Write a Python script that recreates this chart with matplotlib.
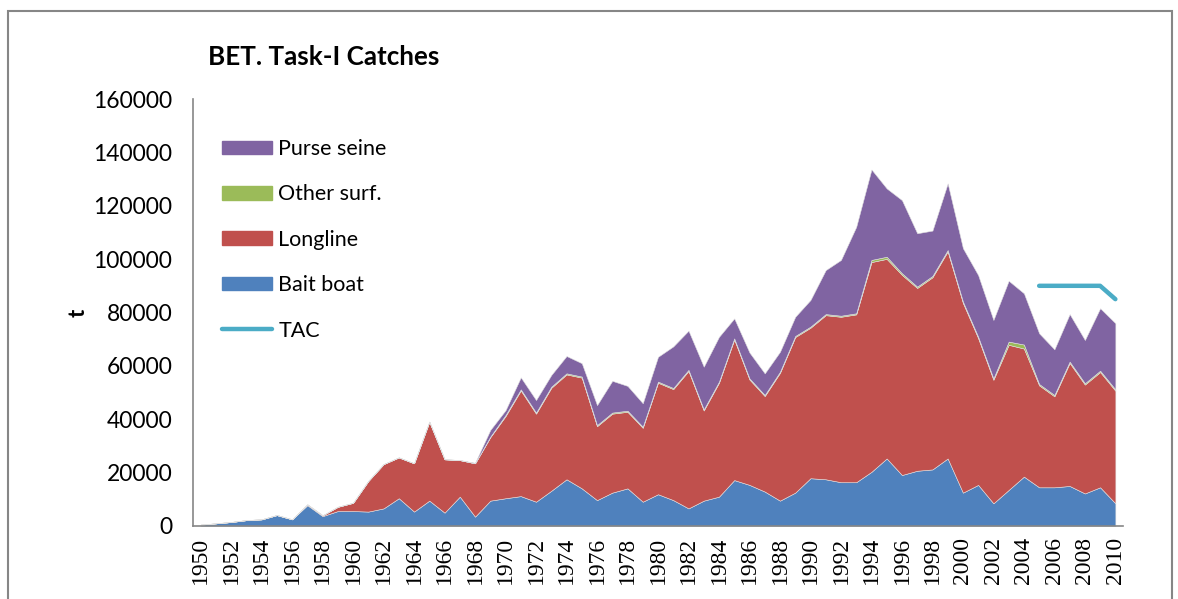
import numpy as np
import matplotlib
matplotlib.use("Agg")
import matplotlib.pyplot as plt
from matplotlib.patches import Rectangle, Patch
from matplotlib.lines import Line2D

years = np.arange(1950, 2011)

bait_boat = [500, 1000, 1500, 2200, 2500, 4100, 2500, 7800, 3700, 5600,
             5600, 5400, 6600, 10400, 5400, 9500, 5000, 11000, 3500, 9500,
             10400, 11200, 9100, 13200, 17500, 14100, 9700, 12500, 14100, 9100,
             11900, 9700, 6600, 9500, 11000, 17200, 15400, 12900, 9500, 12500,
             17900, 17500, 16400, 16400, 20300, 25300, 19100, 20700, 21200, 25300,
             12500, 15400, 8500, 13500, 18500, 14500, 14500, 15000, 12200, 14500,
             8500]

longline = [0, 0, 0, 0, 0, 0, 0, 300, 300, 1600,
            3100, 11500, 16600, 15300, 18100, 29600, 20000, 13700, 20000, 23800,
            30800, 39600, 33000, 38600, 39300, 41500, 27700, 29600, 28700, 27700,
            41800, 41600, 51500, 33800, 42700, 52700, 39500, 35800, 47900, 58300,
            56400, 61500, 62000, 62900, 78600, 74800, 75000, 68500, 72000, 77600,
            71100, 55000, 46300, 54400, 48000, 38200, 34100, 46100, 40800, 43200,
            42200]

other_surf = [0, 0, 0, 0, 0, 0, 0, 0, 0, 0,
              0, 0, 0, 0, 0, 0, 0, 0, 0, 200,
              400, 400, 400, 400, 400, 400, 400, 400, 400, 400,
              400, 400, 400, 400, 400, 400, 400, 400, 400, 400,
              400, 400, 400, 400, 800, 800, 600, 500, 500, 500,
              500, 500, 500, 1200, 1500, 500, 500, 500, 500, 500,
              500]

purse_seine = [0, 0, 0, 0, 0, 0, 0, 0, 0, 0,
               0, 0, 0, 0, 0, 0, 0, 0, 200, 2500,
               1800, 4500, 4700, 4400, 6500, 5000, 7500, 11900, 9300, 8800,
               9300, 15600, 14700, 16000, 16800, 7500, 9700, 8100, 7500, 7200,
               10000, 16500, 20900, 32400, 33900, 25600, 27400, 20000, 17000, 25000,
               20000, 23100, 21900, 22800, 19200, 19000, 17100, 17800, 16200, 23400,
               24800]

tac_years = [2005, 2006, 2007, 2008, 2009, 2010]
tac = [90000, 90000, 90000, 90000, 90000, 85000]

c_bb = "#4F81BD"
c_ll = "#C0504D"
c_os = "#9BBB59"
c_ps = "#8064A2"
c_tac = "#4BACC6"

fig = plt.figure(figsize=(11.78, 5.99), dpi=100)
ax = fig.add_axes([193 / 1178, 1 - 526 / 599, (1123 - 193) / 1178, (526 - 99) / 599])

ax.stackplot(years, bait_boat, longline, other_surf, purse_seine,
             colors=[c_bb, c_ll, c_os, c_ps], linewidth=0.4,
             edgecolor="#e0e0e0")
ax.plot(tac_years, tac, color=c_tac, linewidth=3.2, solid_capstyle="round")

ax.set_xlim(1949.5, 2010.5)
ax.set_ylim(0, 160000)
ax.set_yticks(np.arange(0, 160001, 20000))
ax.set_yticklabels([str(v) for v in range(0, 160001, 20000)],
                   fontfamily="Lato", fontsize=16.5)
ax.set_xticks(years[::2])
ax.set_xticklabels([str(y) for y in years[::2]], rotation=90,
                   fontfamily="Liberation Serif", fontsize=17)
ax.tick_params(axis="y", length=0, pad=15)
ax.tick_params(axis="x", length=0, pad=8)

for side in ("top", "right"):
    ax.spines[side].set_visible(False)
for side in ("left", "bottom"):
    ax.spines[side].set_color("#868686")
    ax.spines[side].set_linewidth(1.2)

ax.set_ylabel("t", fontfamily="Lato", fontsize=16, fontweight="bold",
              labelpad=3)

fig.text(208 / 1178, 1 - 57 / 599, "BET. Task-I Catches", fontfamily="Lato",
         fontsize=18.7, fontweight="bold", va="center", ha="left")

handles = [Patch(color=c_ps), Patch(color=c_os), Patch(color=c_ll),
           Patch(color=c_bb),
           Line2D([], [], color=c_tac, linewidth=3.2, solid_capstyle="round")]
labels = ["Purse seine", "Other surf.", "Longline", "Bait boat", "TAC"]
fig.legend(handles, labels, loc="upper left",
           bbox_to_anchor=(222 / 1178, 1 - 139 / 599),
           frameon=False, prop={"family": "Lato", "size": 15.5},
           handlelength=2.33, handleheight=0.6, handletextpad=0.28,
           labelspacing=1.18, borderpad=0, borderaxespad=0)

# outer chart frame
fig.patches.append(Rectangle((8 / 1178, -0.1), (1172 - 8) / 1178,
                             1.1 - 11 / 599, transform=fig.transFigure,
                             fill=False, edgecolor="#868686", linewidth=1.5))

fig.savefig("out.png", dpi=100)
